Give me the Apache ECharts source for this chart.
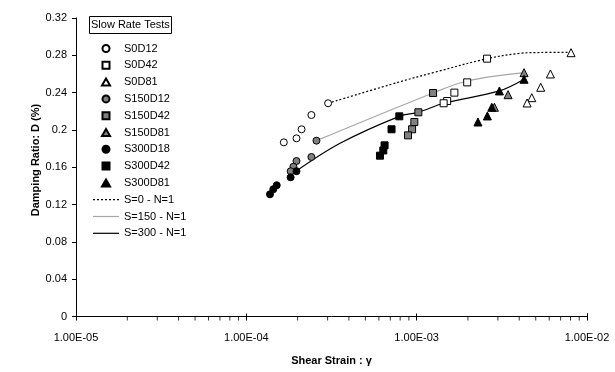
<!DOCTYPE html>
<html>
<head>
<meta charset="utf-8">
<script src="https://cdn.jsdelivr.net/npm/echarts@6/dist/echarts.min.js"></script>
<style>html,body{margin:0;padding:0;background:#fff}#c{width:615px;height:372px}</style>
</head>
<body>
<div id="c"></div>
<script>
// ---- data (shear strain, damping ratio) ----
const S0D12   = [[3.02e-4,0.2286],[2.41e-4,0.2160],[2.11e-4,0.2007],[1.97e-4,0.1910],[1.66e-4,0.1867]];
const S0D42   = [[2.59e-3,0.2764],[1.98e-3,0.2510],[1.665e-3,0.2400],[1.51e-3,0.2310],[1.44e-3,0.2286]];
const S0D81   = [[8.06e-3,0.2828],[6.10e-3,0.2600],[5.35e-3,0.2457],[4.74e-3,0.2346],[4.45e-3,0.2289]];
const S150D12 = [[2.58e-4,0.1885],[2.41e-4,0.1710],[1.97e-4,0.1667],[1.89e-4,0.1606],[1.82e-4,0.1557]];
const S150D42 = [[1.248e-3,0.2396],[1.023e-3,0.2189],[9.69e-4,0.2085],[9.40e-4,0.2007],[8.90e-4,0.1942]];
const S150D81 = [[4.27e-3,0.2614],[3.44e-3,0.2378],[2.86e-3,0.2243]];
const S300D18 = [[1.97e-4,0.1558],[1.82e-4,0.1492],[1.508e-4,0.1407],[1.44e-4,0.1364],[1.377e-4,0.1310]];
const S300D42 = [[7.91e-4,0.2146],[7.12e-4,0.2007],[6.48e-4,0.1835],[6.37e-4,0.1780],[6.09e-4,0.1724]];
const S300D81 = [[4.27e-3,0.2543],[3.06e-3,0.2418],[2.76e-3,0.2243],[2.60e-3,0.2150],[2.29e-3,0.2085]];
const lineS0   = [[3.02e-4,0.2286],[8.0e-4,0.2517],[1.25e-3,0.2614],[2.59e-3,0.2764],[4.05e-3,0.2822],[5.3e-3,0.2830],[8.0e-3,0.2832]];
const lineS150 = [[2.58e-4,0.1885],[1.248e-3,0.2396],[1.98e-3,0.2525],[4.27e-3,0.2614]];
const lineS300 = [[1.977e-4,0.1563],[3.55e-4,0.1857],[7.91e-4,0.2146],[1.023e-3,0.2189],[1.44e-3,0.2286],[3.06e-3,0.2418],[4.27e-3,0.2543]];
const xTickLabels = ['1.00E-05','1.00E-04','1.00E-03','1.00E-02'];
const yTickLabels = ['0','0.04','0.08','0.12','0.16','0.2','0.24','0.28','0.32'];
const legendTitle = 'Slow Rate Tests';
const xTitle = 'Shear Strain : γ';
const yTitle = 'Damping Ratio: D (%)';

const FONT = 'Liberation Sans, Arial, sans-serif';
// minor tick positions on the log axis (2..9 within each decade)
const minorTicks = [];
[1e-5,1e-4,1e-3].forEach(d => { for (let k = 2; k <= 9; k++) minorTicks.push([k*d, 0]); });

// legend icon paths
const W = 26;
const solidIcon = 'path://M0,0h' + W + 'v1.2h-' + W + 'z';
let dotted = 'path://';
for (let p = 0; p + 2 <= W; p += 4) dotted += 'M' + p + ',0h2v1.2h-2z';
const rectIcon = 'path://M0,0h10v10h-10z';
const triIcon = 'path://M5,0L10.4,9.4L-0.4,9.4z';

function sc(name, data, symbol, fill, size) {
  return {
    name, type: 'scatter', data, symbol, symbolSize: size, z: 5,
    itemStyle: { color: fill, borderColor: '#000', borderWidth: 1, opacity: 1 },
    emphasis: { disabled: true }
  };
}
function ln(name, data, color, type, width) {
  return {
    name, type: 'line', data, smooth: 0.35, symbol: 'none', showSymbol: false, z: 2,
    lineStyle: { color, type, width }, itemStyle: { color },
    emphasis: { disabled: true }
  };
}
const series = [
  sc('S0D12', S0D12, 'circle', '#fff', 7),
  sc('S0D42', S0D42, 'rect', '#fff', 7),
  sc('S0D81', S0D81, 'triangle', '#fff', 8),
  sc('S150D12', S150D12, 'circle', '#808080', 7),
  sc('S150D42', S150D42, 'rect', '#808080', 7),
  sc('S150D81', S150D81, 'triangle', '#808080', 8),
  sc('S300D18', S300D18, 'circle', '#000', 7),
  sc('S300D42', S300D42, 'rect', '#000', 7),
  sc('S300D81', S300D81, 'triangle', '#000', 8),
  ln('S=0 - N=1', lineS0, '#000', [2, 2], 1.2),
  ln('S=150 - N=1', lineS150, '#a6a6a6', 'solid', 1.2),
  ln('S=300 - N=1', lineS300, '#000', 'solid', 1.2),
  {
    type: 'scatter', data: minorTicks, symbol: 'rect', symbolSize: [1, 4], symbolOffset: [0, 2],
    itemStyle: { color: '#000' }, silent: true, clip: false, z: 10
  }
];

const lineLegendStyle = { borderWidth: 0 };
const chart = echarts.init(document.getElementById('c'), null, { renderer: 'canvas' });
chart.setOption({
  animation: false,
  backgroundColor: '#fff',
  textStyle: { fontFamily: FONT },
  grid: { left: 76, right: 28, top: 18, bottom: 55.5 },
  title: {
    text: legendTitle, left: 89, top: 16,
    padding: [3, 2, 3, 2], borderColor: '#000', borderWidth: 1,
    textStyle: { fontSize: 11, fontWeight: 'normal', color: '#000', fontFamily: FONT, lineHeight: 12 }
  },
  legend: {
    orient: 'vertical', left: 88, top: 38, itemWidth: W, itemHeight: 7, itemGap: 5.8,
    symbolKeepAspect: true,
    data: [
      { name: 'S0D12', icon: 'circle' },
      { name: 'S0D42', icon: rectIcon },
      { name: 'S0D81', icon: triIcon },
      { name: 'S150D12', icon: 'circle' },
      { name: 'S150D42', icon: rectIcon },
      { name: 'S150D81', icon: triIcon },
      { name: 'S300D18', icon: 'circle' },
      { name: 'S300D42', icon: rectIcon },
      { name: 'S300D81', icon: triIcon },
      { name: 'S=0 - N=1', icon: dotted, itemStyle: lineLegendStyle },
      { name: 'S=150 - N=1', icon: solidIcon, itemStyle: lineLegendStyle },
      { name: 'S=300 - N=1', icon: solidIcon, itemStyle: lineLegendStyle }
    ],
    textStyle: { fontSize: 11, color: '#000', fontFamily: FONT },
    selectedMode: false
  },
  xAxis: [{
    type: 'log', logBase: 10, min: 1e-5, max: 1e-2,
    name: xTitle, nameLocation: 'middle', nameGap: 39,
    nameTextStyle: { fontSize: 11, fontWeight: 'bold', color: '#000', fontFamily: FONT },
    axisLine: { lineStyle: { color: '#000', width: 1 } },
    axisTick: { show: true, inside: false, length: 4, lineStyle: { color: '#000' } },
    minorTick: { show: false },
    splitLine: { show: false },
    axisLabel: {
      margin: 16, fontSize: 11, color: '#000', fontFamily: FONT,
      formatter: v => xTickLabels[Math.round(Math.log10(v) + 5)] || ''
    }
  }, {
    type: 'log', logBase: 10, min: 1e-5, max: 1e-2, position: 'bottom',
    axisLine: { show: false },
    axisTick: { show: true, inside: true, length: 3, lineStyle: { color: '#000' } },
    axisLabel: { show: false }, splitLine: { show: false }
  }],
  yAxis: {
    type: 'value', min: 0, max: 0.32, interval: 0.04,
    axisLine: { show: true, lineStyle: { color: '#000', width: 1 } },
    axisTick: { show: true, inside: false, length: 4, lineStyle: { color: '#000' } },
    splitLine: { show: false },
    axisLabel: {
      margin: 9, fontSize: 11, color: '#000', fontFamily: FONT,
      formatter: v => yTickLabels[Math.round(v / 0.04)]
    }
  },
  graphic: [{
    type: 'text', x: 36, y: 160, rotation: Math.PI / 2,
    style: { text: yTitle, font: 'bold 11px ' + FONT, fill: '#000', align: 'center', verticalAlign: 'middle' }
  }],
  series
});
</script>
</body>
</html>
